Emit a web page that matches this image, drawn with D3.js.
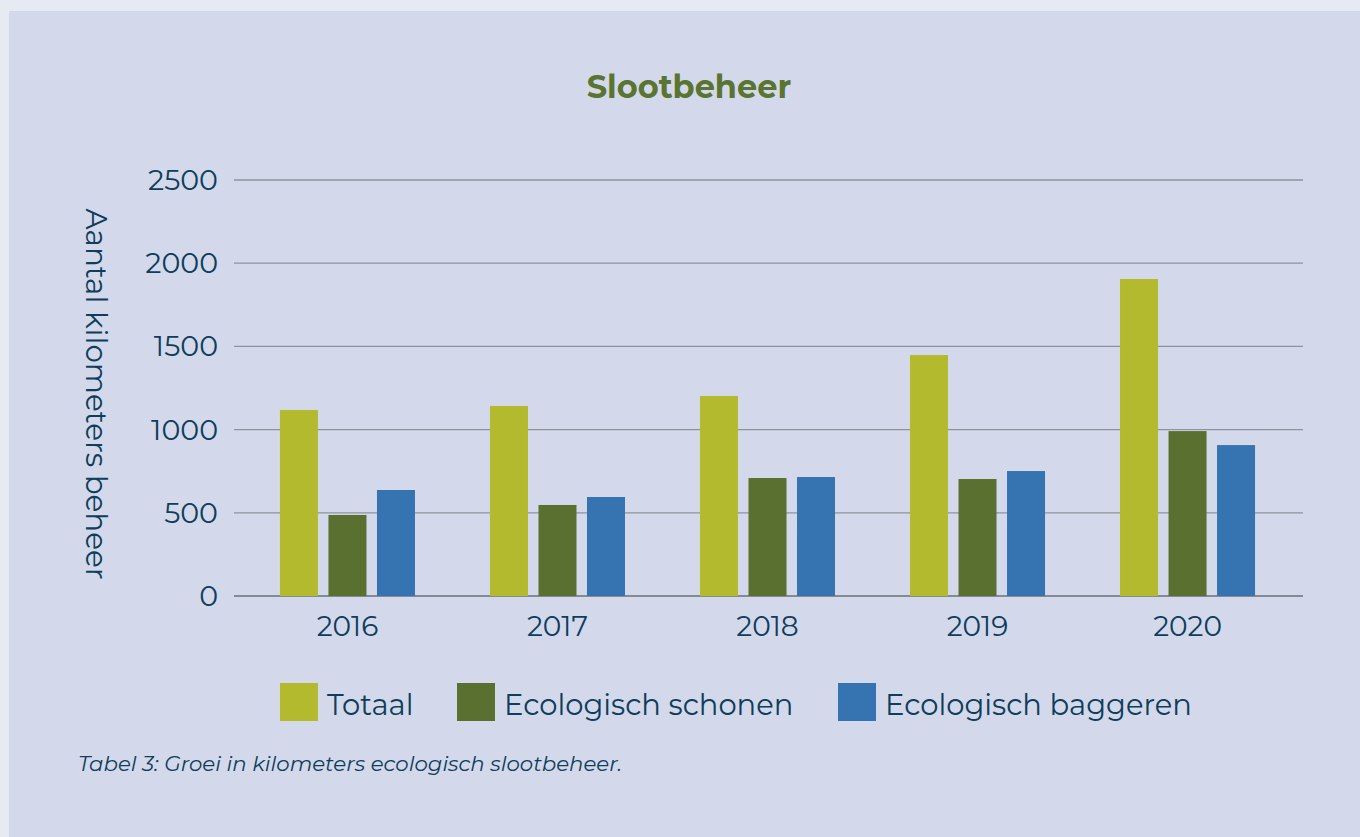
<!DOCTYPE html>
<html>
<head>
<meta charset="utf-8">
<script src="https://cdn.jsdelivr.net/npm/d3@7"></script>
<style>
  body { margin: 0; background: #e6eaf3; }
  svg { display: block; }
  text { font-family: Montserrat, "Open Sans", sans-serif; fill: #0f3d5c; }
</style>
</head>
<body>
<svg id="chart" width="1360" height="837"></svg>
<script>
// Chart data
const years = ['2016', '2017', '2018', '2019', '2020'];
const seriesNames = ['Totaal', 'Ecologisch schonen', 'Ecologisch baggeren'];
const seriesColors = ['#b4ba2e', '#5a7030', '#3574b1'];
const totaal = [1118, 1142, 1202, 1448, 1905];
const schonen = [487, 547, 709, 703, 991];
const baggeren = [637, 595, 715, 751, 907];
const yTicks = [0, 500, 1000, 1500, 2000, 2500];

const svg = d3.select('#chart');

// Panel background
svg.append('rect')
  .attr('x', 9).attr('y', 11)
  .attr('width', 1360 - 9).attr('height', 837 - 11)
  .attr('fill', '#d3d9ea');

// Title
svg.append('text')
  .attr('x', 689).attr('y', 98)
  .attr('text-anchor', 'middle')
  .style('font-size', '32px')
  .style('font-weight', 700)
  .style('fill', '#5a7431')
  .text('Slootbeheer');

// Scales
const x0 = d3.scaleBand()
  .domain(years)
  .range([233, 1302])
  .paddingInner(0)
  .paddingOuter(0.045);

const x1 = d3.scaleBand()
  .domain(seriesNames)
  .range([0, x0.bandwidth()])
  .paddingInner(0.2165)
  .paddingOuter(0.773);

const y = d3.scaleLinear()
  .domain([0, 2500])
  .range([596, 180]);

// Gridlines
svg.append('g')
  .selectAll('line')
  .data(yTicks)
  .join('line')
  .attr('x1', 234).attr('x2', 1303)
  .attr('y1', (d) => y(d)).attr('y2', (d) => y(d))
  .attr('stroke', (d) => (d === 0 ? '#858b95' : '#8e939d'))
  .attr('stroke-width', (d) => (d === 0 ? 2 : 1.3));

// Y tick labels
svg.append('g')
  .selectAll('text')
  .data(yTicks)
  .join('text')
  .attr('x', 218)
  .attr('y', (d) => y(d) + 10)
  .attr('text-anchor', 'end')
  .style('font-size', '28.5px')
  .text((d) => d);

// Y axis title
svg.append('text')
  .attr('transform', 'translate(86,394) rotate(90)')
  .attr('text-anchor', 'middle')
  .style('font-size', '29.4px')
  .text('Aantal kilometers beheer');

// Bars
const seriesValues = [totaal, schonen, baggeren];
const barData = years.flatMap((year, i) => seriesNames.map((name, s) => ({
  year, name, s, value: seriesValues[s][i],
})));

svg.append('g')
  .selectAll('rect')
  .data(barData)
  .join('rect')
  .attr('x', (d) => x0(d.year) + x1(d.name))
  .attr('y', (d) => y(d.value))
  .attr('width', x1.bandwidth())
  .attr('height', (d) => y(0) - y(d.value))
  .attr('fill', (d) => seriesColors[d.s]);

// X labels
svg.append('g')
  .selectAll('text')
  .data(years)
  .join('text')
  .attr('x', (d) => x0(d) + x0.bandwidth() / 2)
  .attr('y', 636)
  .attr('text-anchor', 'middle')
  .style('font-size', '28px')
  .text((d) => d);

// Legend
const legendX = [280, 457, 838];
const legend = svg.append('g')
  .selectAll('g')
  .data(seriesNames)
  .join('g')
  .attr('transform', (d, i) => `translate(${legendX[i]},683)`);

legend.append('rect')
  .attr('width', 38).attr('height', 38)
  .attr('fill', (d, i) => seriesColors[i]);

legend.append('text')
  .attr('x', 47).attr('y', 32)
  .style('font-size', '29px')
  .text((d) => d);

// Caption
svg.append('text')
  .attr('x', 78).attr('y', 771)
  .style('font-size', '21.3px')
  .style('font-style', 'italic')
  .text('Tabel 3: Groei in kilometers ecologisch slootbeheer.');
</script>
</body>
</html>
